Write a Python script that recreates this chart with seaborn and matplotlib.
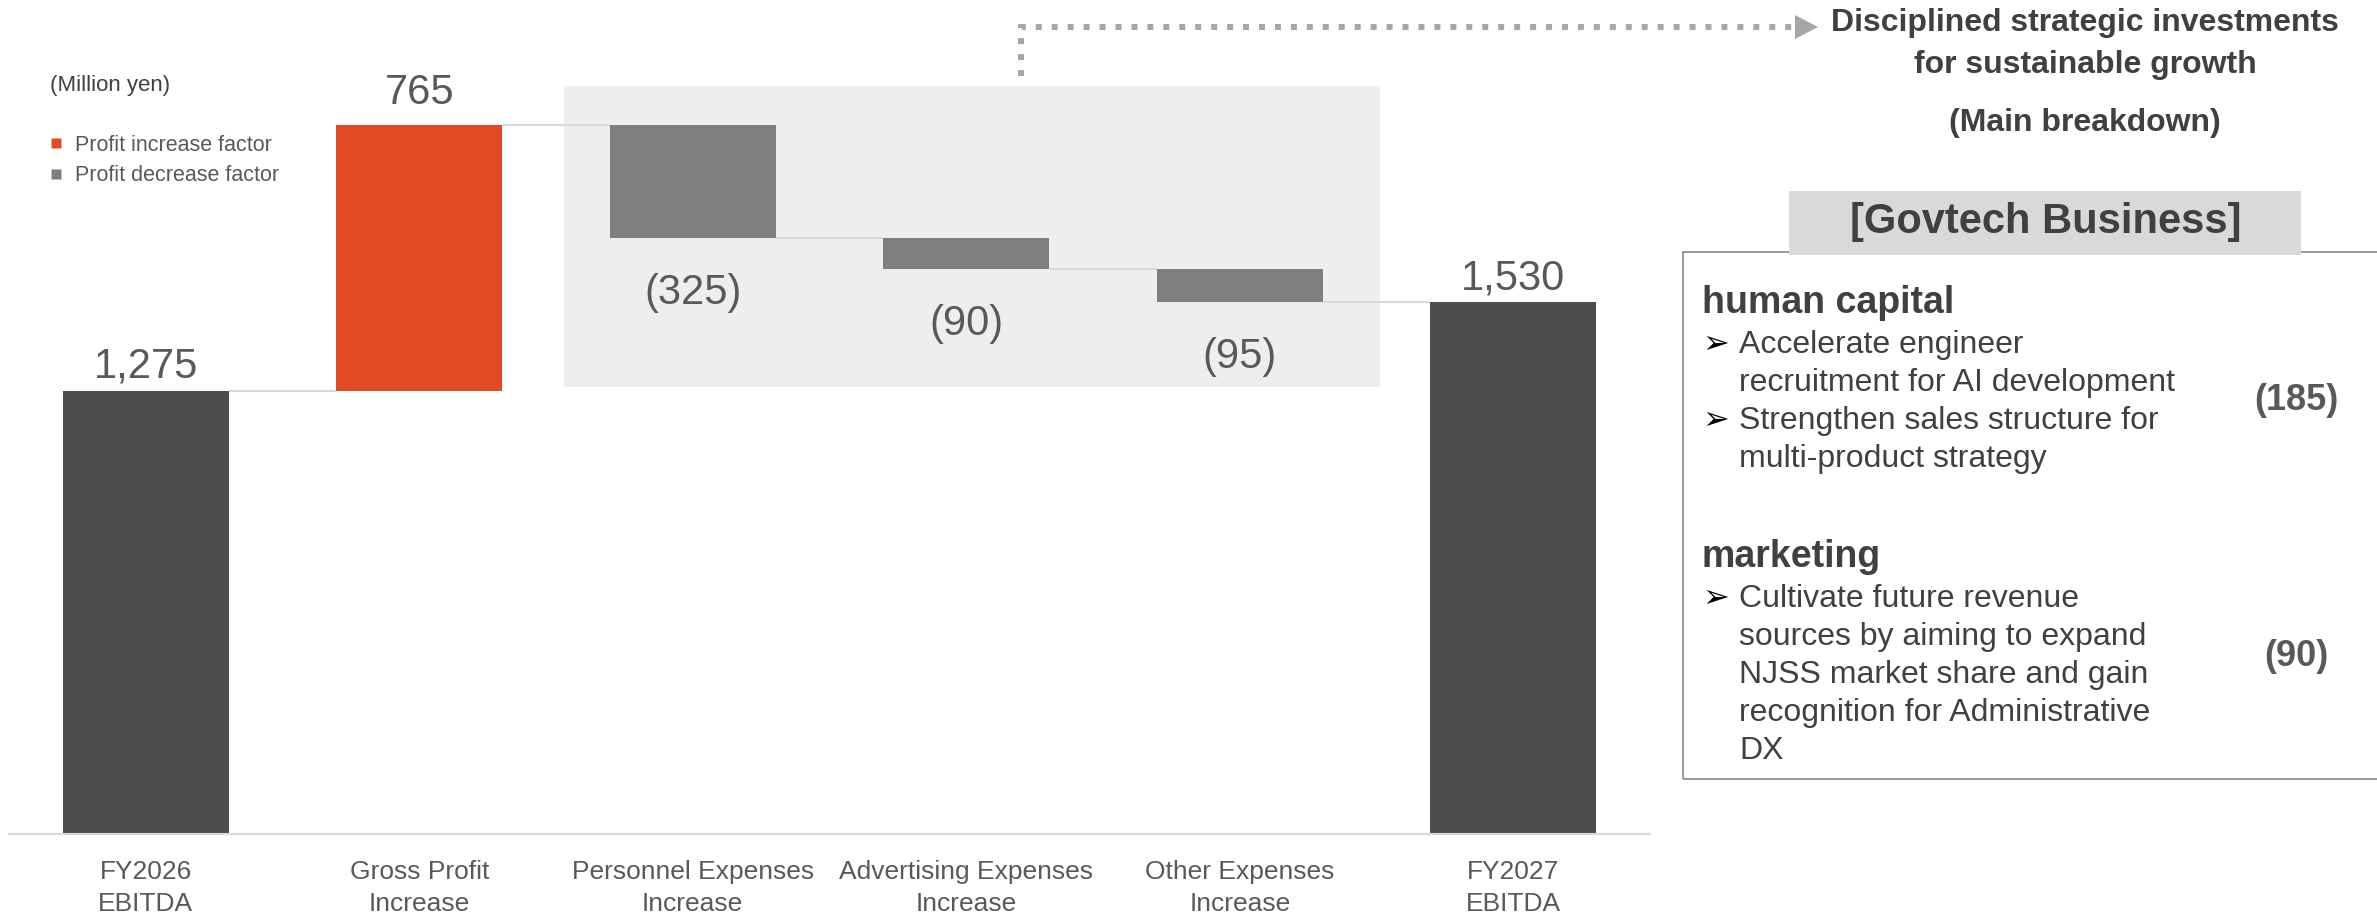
import matplotlib
matplotlib.use("Agg")
import matplotlib.pyplot as plt
from matplotlib.patches import Rectangle, Polygon
from matplotlib.lines import Line2D
import pandas as pd
import seaborn as sns

# ---- data -------------------------------------------------------------
categories = [
    "FY2026\nEBITDA",
    "Gross Profit\nIncrease",
    "Personnel Expenses\nIncrease",
    "Advertising Expenses\nIncrease",
    "Other Expenses\nIncrease",
    "FY2027\nEBITDA",
]
changes = [1275, 765, -325, -90, -95, 1530]
kinds = ["total", "increase", "decrease", "decrease", "decrease", "total"]
value_labels = ["1,275", "765", "(325)", "(90)", "(95)", "1,530"]

legend_labels = ["Profit increase factor", "Profit decrease factor"]
unit_label = "(Million yen)"

callout_lines = ["Disciplined strategic investments", "for sustainable growth"]
callout_subtitle = "(Main breakdown)"
segment_title = "[Govtech Business]"
breakdown_heads = ["human capital", "marketing"]
breakdown_bullets = [
    [["Accelerate engineer", "recruitment for AI development"],
     ["Strengthen sales structure for", "multi-product strategy"]],
    [["Cultivate future revenue", "sources by aiming to expand",
      "NJSS market share and gain", "recognition for Administrative", "DX"]],
]
breakdown_value_labels = ["(185)", "(90)"]

# ---- style ------------------------------------------------------------
COL_TOTAL = "#4d4d4d"
COL_UP = "#e04a24"
COL_DOWN = "#7f7f7f"
COL_TEXT = "#595959"
COL_DARK = "#404040"
COL_CONNECT = "#d9d9d9"
kind_colors = {"total": COL_TOTAL, "increase": COL_UP, "decrease": COL_DOWN}

sns.set_theme(style="white")
plt.rcParams["font.family"] = ["Liberation Sans", "DejaVu Sans"]

W, H = 2377, 916
fig = plt.figure(figsize=(W / 100, H / 100), dpi=100)


def fx(px):
    return px / W


def fy(py):
    return 1 - py / H


ax = fig.add_axes([fx(9), 82 / H, 1641 / W, 834 / H])

# ---- waterfall geometry from the running total -------------------------
bottoms, heights, levels = [], [], []
level = 0
for kind, change in zip(kinds, changes):
    if kind == "total":
        bottoms.append(0)
        heights.append(change)
        level = change
    else:
        new_level = level + change
        bottoms.append(min(level, new_level))
        heights.append(abs(change))
        level = new_level
    levels.append(level)

df = pd.DataFrame({"category": categories, "height": heights})
bar_w = 0.607
sns.barplot(data=df, x="category", y="height", bottom=bottoms, width=bar_w,
            color=COL_TOTAL, saturation=1, errorbar=None, ax=ax, zorder=2)
for patch, kind in zip(ax.patches, kinds):
    patch.set_facecolor(kind_colors[kind])
    patch.set_edgecolor("none")

ax.set_xlim(-0.5, 5.5)
ax.set_ylim(0, 2400)

# highlight panel behind the expense bars
ax.add_patch(Rectangle((1.53, 1286), 2.984, 866, facecolor="#eeeeee",
                       edgecolor="none", zorder=0))

# connector lines between consecutive bars
for i in range(len(categories) - 1):
    ax.hlines(levels[i], i + bar_w / 2, i + 1 - bar_w / 2, color=COL_CONNECT,
              lw=1.5, zorder=1)

# value labels
for i, (kind, label) in enumerate(zip(kinds, value_labels)):
    if kind == "decrease":
        ax.annotate(label, (i, bottoms[i]), xytext=(0, -39.5),
                    textcoords="offset points", ha="center", va="center",
                    fontsize=30, color=COL_TEXT)
    else:
        lift = 9 if kind == "increase" else 3
        ax.annotate(label, (i, bottoms[i] + heights[i]), xytext=(0, lift),
                    textcoords="offset points", ha="center", va="bottom",
                    fontsize=30, color=COL_TEXT)

# axes cosmetics
ax.set_xlabel("")
ax.set_ylabel("")
ax.set_yticks([])
for side in ["left", "right", "top"]:
    ax.spines[side].set_visible(False)
ax.spines["bottom"].set_color(COL_CONNECT)
ax.spines["bottom"].set_linewidth(1.5)
ax.tick_params(axis="x", length=0, pad=19, labelsize=19, labelcolor=COL_TEXT)
for lbl in ax.get_xticklabels():
    lbl.set_linespacing(1.42)
ax.set_facecolor("none")

# legend
handles = [
    Line2D([], [], marker="s", linestyle="none", markersize=7,
           markerfacecolor=COL_UP, markeredgecolor="none"),
    Line2D([], [], marker="s", linestyle="none", markersize=7,
           markerfacecolor=COL_DOWN, markeredgecolor="none"),
]
ax.legend(handles, legend_labels, loc="upper left",
          bbox_to_anchor=(fx(50), fy(135)), bbox_transform=fig.transFigure,
          frameon=False, fontsize=15.5, handlelength=0.6, handletextpad=0.55,
          labelspacing=0.42, borderpad=0, borderaxespad=0, labelcolor=COL_TEXT)

fig.text(fx(50), fy(86), unit_label, ha="left", va="center", fontsize=16,
         color=COL_DARK)

# dotted callout arrow
fig.add_artist(Line2D([fx(1021), fx(1021), fx(1797)], [fy(76), fy(27), fy(27)],
                      lw=4.3, color="#a6a6a6", linestyle=(0, (1.0, 1.67)),
                      dash_capstyle="butt", dash_joinstyle="miter"))
fig.add_artist(Polygon([(fx(1795), fy(15)), (fx(1818), fy(27)), (fx(1795), fy(39))],
                       closed=True, facecolor="#a6a6a6", edgecolor="none"))

fig.text(fx(2085), fy(23), callout_lines[0], ha="center", va="center",
         fontsize=23, fontweight="bold", color=COL_DARK)
fig.text(fx(2085), fy(65), callout_lines[1], ha="center", va="center",
         fontsize=23, fontweight="bold", color=COL_DARK)
fig.text(fx(2085), fy(123), callout_subtitle, ha="center", va="center",
         fontsize=23, fontweight="bold", color=COL_DARK)

# breakdown panel
fig.add_artist(Rectangle((fx(1683), fy(779)), fx(2420) - fx(1683),
                         (779 - 252) / H, fill=False, edgecolor="#7f7f7f",
                         lw=1.1, zorder=1))
fig.add_artist(Rectangle((fx(1789), fy(255)), (2301 - 1789) / W, (255 - 191) / H,
                         facecolor="#d9d9d9", edgecolor="none", zorder=2))
fig.text(fx(2046), fy(222), segment_title, ha="center", va="center",
         fontsize=30, fontweight="bold", color=COL_DARK, zorder=3)

head_y = [303, 557]
value_y = [401, 656]
line_step = 38
for head, bullets, vlabel, hy, vy in zip(breakdown_heads, breakdown_bullets,
                                          breakdown_value_labels, head_y, value_y):
    fig.text(fx(1702), fy(hy), head, ha="left", va="center", fontsize=27,
             fontweight="bold", color=COL_DARK)
    y = hy + 42
    for bullet in bullets:
        fig.text(fx(1716), fy(y), "\u27a2", ha="center", va="center",
                 fontsize=23, color="black")
        for line in bullet:
            fig.text(fx(1739), fy(y), line, ha="left", va="center",
                     fontsize=23, color=COL_DARK)
            y += line_step
    fig.text(fx(2296), fy(vy), vlabel, ha="center", va="center", fontsize=26,
             fontweight="bold", color=COL_TEXT)

fig.savefig("out.png", dpi=100, facecolor="white")
